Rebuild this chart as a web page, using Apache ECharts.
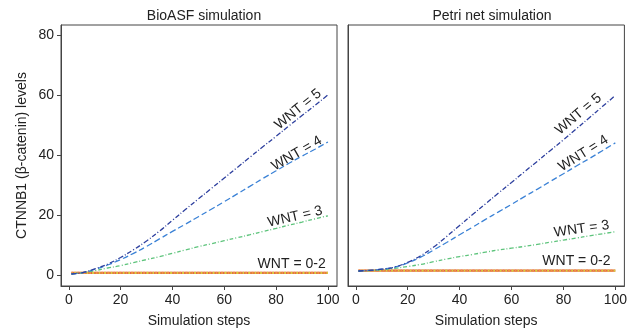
<!DOCTYPE html>
<html>
<head>
<meta charset="utf-8">
<script src="https://cdn.jsdelivr.net/npm/echarts@6/dist/echarts.min.js"></script>
<style>
  html, body { margin: 0; padding: 0; background: #fff; }
  #chart { width: 630px; height: 333px; }
</style>
</head>
<body>
<div id="chart"></div>
<script>
// simulation steps at which values were read
const steps = [1, 5, 10, 15, 20, 25, 30, 35, 40, 45, 50, 55, 60, 65, 70, 75, 80, 85, 90, 95, 100];

// BioASF simulation
const bioWnt5 = [0.5, 0.9, 2.2, 3.8, 6.0, 8.6, 11.5, 14.8, 18.4, 22.0, 25.5, 29.0, 32.5, 36.0, 39.5, 43.0, 46.4, 49.9, 53.3, 56.7, 60.2];
const bioWnt4 = [0.5, 0.9, 2.0, 3.5, 5.3, 7.4, 9.7, 12.2, 14.7, 17.1, 19.6, 22.1, 24.6, 27.2, 29.8, 32.4, 34.9, 37.4, 39.8, 42.1, 44.5];
const bioWnt3 = [0.5, 0.9, 1.6, 2.5, 3.3, 4.3, 5.3, 6.3, 7.4, 8.5, 9.6, 10.6, 11.6, 12.6, 13.6, 14.7, 15.7, 16.8, 17.8, 18.9, 19.9];
const bioWnt02 = [0.9, 0.9, 0.9, 0.9, 0.9, 0.9, 0.9, 0.9, 0.9, 0.9, 0.9, 0.9, 0.9, 0.9, 0.9, 0.9, 0.9, 0.9, 0.9, 0.9, 0.9];

// Petri net simulation
const petriWnt5 = [1.5, 1.7, 2.1, 2.8, 4.4, 6.6, 9.5, 13.0, 16.7, 20.3, 23.9, 27.5, 31.0, 34.6, 38.1, 41.7, 45.2, 48.9, 52.6, 56.3, 60.0];
const petriWnt4 = [1.5, 1.7, 2.1, 2.8, 4.2, 6.1, 8.5, 11.0, 13.6, 16.1, 18.7, 21.2, 23.7, 26.3, 28.8, 31.4, 33.9, 36.5, 39.0, 41.6, 44.2];
const petriWnt3 = [1.5, 1.6, 1.9, 2.4, 3.0, 3.7, 4.6, 5.5, 6.3, 7.0, 7.8, 8.5, 9.1, 9.7, 10.4, 11.1, 11.8, 12.5, 13.2, 13.9, 14.6];
const petriWnt02 = [1.6, 1.6, 1.6, 1.6, 1.6, 1.6, 1.6, 1.6, 1.6, 1.6, 1.6, 1.6, 1.6, 1.6, 1.6, 1.6, 1.6, 1.6, 1.6, 1.6, 1.6];

const xTicks = [0, 20, 40, 60, 80, 100];
const yTicks = [0, 20, 40, 60, 80];
const panelTitles = ['BioASF simulation', 'Petri net simulation'];
const labelTexts = ['WNT = 5', 'WNT = 4', 'WNT = 3', 'WNT = 0-2'];

const FONT = 'Liberation Sans, Arial, sans-serif';
const TXT = '#222';

const pairs = ys => steps.map((s, i) => [s, ys[i]]);

// label anchor (data coords) + rotation, per panel
const labelSpots = [
  [[88.5, 55.4, 39], [88, 40.7, 30], [87.3, 19.6, 13], [86, 3.7, 0]],
  [[85.8, 53.8, 40], [87.7, 40.7, 32], [87, 15.5, 8], [85, 4.9, 0]]
];

const styles = [
  { color: '#2d3f9e', type: [5, 2, 1, 2], width: 1.3 },
  { color: '#3b82d6', type: [6, 3], width: 1.3 },
  { color: '#5ec47c', type: [4, 2, 1, 2], width: 1.3 }
];

function xAxis(idx) {
  return {
    type: 'value', gridIndex: idx, min: -3, max: 103.5,
    name: 'Simulation steps', nameLocation: 'middle', nameGap: 28,
    nameTextStyle: { fontFamily: FONT, fontSize: 14, color: TXT },
    splitLine: { show: false },
    axisLine: { show: true, onZero: false, lineStyle: { color: '#444', width: 1 } },
    axisTick: { show: true, customValues: xTicks, length: 4, lineStyle: { color: '#444' } },
    axisLabel: { customValues: xTicks, margin: 7, fontFamily: FONT, fontSize: 14, color: TXT }
  };
}

function yAxis(idx) {
  return {
    type: 'value', gridIndex: idx, min: -3.5, max: 83.5,
    name: idx === 0 ? 'CTNNB1 (β-catenin) levels' : '',
    nameLocation: 'middle', nameGap: 32, nameRotate: 90,
    nameTextStyle: { fontFamily: FONT, fontSize: 14, color: TXT },
    splitLine: { show: false },
    axisLine: { show: true, onZero: false, lineStyle: { color: '#444', width: 1 } },
    axisTick: { show: idx === 0, customValues: yTicks, length: 4, lineStyle: { color: '#444' } },
    axisLabel: { show: idx === 0, customValues: yTicks, margin: 7, fontFamily: FONT, fontSize: 14, color: TXT }
  };
}

function panelSeries(idx, w5, w4, w3, w02) {
  const spots = labelSpots[idx];
  const mk = (k) => ({
    symbol: 'circle', symbolSize: 1, silent: true,
    itemStyle: { color: 'rgba(0,0,0,0)' },
    label: {
      show: true, position: 'inside', formatter: labelTexts[k], rotate: spots[k][2],
      fontFamily: FONT, fontSize: 14, color: TXT
    },
    data: [{ name: labelTexts[k], coord: [spots[k][0], spots[k][1]], value: 0 }]
  });
  const base = { type: 'line', xAxisIndex: idx, yAxisIndex: idx, showSymbol: false, smooth: 0.4, animation: false };
  return [
    Object.assign({}, base, { name: 'WNT 0', data: pairs(w02), lineStyle: { color: '#e2574c', width: 2.2 }, markPoint: mk(3) }),
    Object.assign({}, base, { name: 'WNT 1', data: pairs(w02), lineStyle: { color: '#ee9a3c', width: 2.2, type: [2, 4] } }),
    Object.assign({}, base, { name: 'WNT 2', data: pairs(w02), lineStyle: { color: '#d9d03c', width: 2.2, type: [2, 4], dashOffset: 3 } }),
    Object.assign({}, base, { name: 'WNT 3', data: pairs(w3), lineStyle: styles[2], markPoint: mk(2) }),
    Object.assign({}, base, { name: 'WNT 4', data: pairs(w4), lineStyle: styles[1], markPoint: mk(1) }),
    Object.assign({}, base, { name: 'WNT 5', data: pairs(w5), lineStyle: styles[0], markPoint: mk(0) })
  ];
}

const chart = echarts.init(document.getElementById('chart'), null, { renderer: 'canvas' });
chart.setOption({
  animation: false,
  backgroundColor: '#fff',
  title: [
    { text: panelTitles[0], left: 199, top: 4, textAlign: 'center',
      textStyle: { fontFamily: FONT, fontSize: 14, fontWeight: 'normal', color: TXT } },
    { text: panelTitles[1], left: 487, top: 4, textAlign: 'center',
      textStyle: { fontFamily: FONT, fontSize: 14, fontWeight: 'normal', color: TXT } }
  ],
  grid: [
    { left: 61, top: 25, width: 276, height: 265, show: true, borderColor: '#444', borderWidth: 1 },
    { left: 348, top: 25, width: 278, height: 265, show: true, borderColor: '#444', borderWidth: 1 }
  ],
  xAxis: [xAxis(0), xAxis(1)],
  yAxis: [yAxis(0), yAxis(1)],
  series: [
    ...panelSeries(0, bioWnt5, bioWnt4, bioWnt3, bioWnt02),
    ...panelSeries(1, petriWnt5, petriWnt4, petriWnt3, petriWnt02)
  ]
});
</script>
</body>
</html>
